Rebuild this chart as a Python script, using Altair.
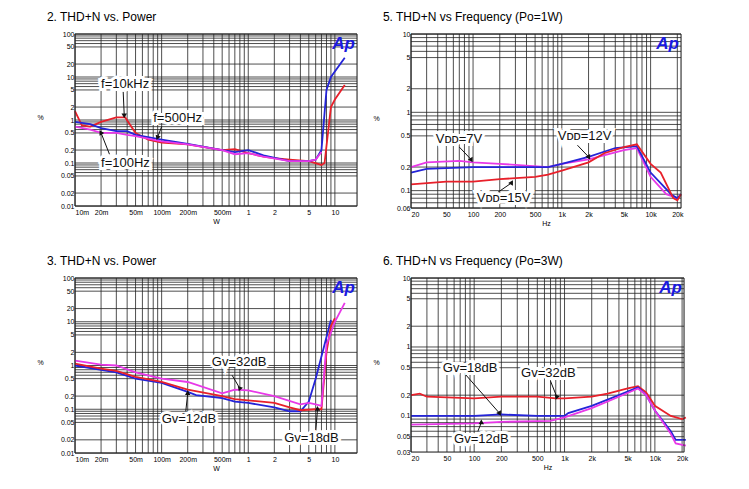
import altair as alt
import pandas as pd

RED, BLUE, MAG = "#e8202a", "#2424d8", "#e838e8"

# ---- panel 2: THD+N vs Power (frequency) ----
p1_red_x = [0.01, 0.012, 0.015, 0.02, 0.03, 0.038, 0.05, 0.07, 0.1, 0.2, 0.5, 0.7, 1, 1.5, 2, 3, 5, 7, 7.6, 9, 10, 13]
p1_red_y = [1.6, 0.75, 0.7, 0.9, 1.15, 1.15, 0.5, 0.35, 0.3, 0.27, 0.2, 0.21, 0.17, 0.14, 0.13, 0.12, 0.11, 0.09, 0.1, 2.0, 3.0, 6.5]
p1_blue_x = [0.01, 0.015, 0.02, 0.03, 0.04, 0.05, 0.1, 0.2, 0.5, 0.7, 1, 1.5, 3, 5, 6, 7, 8, 9, 13]
p1_blue_y = [0.9, 0.8, 0.65, 0.55, 0.55, 0.45, 0.35, 0.28, 0.2, 0.18, 0.2, 0.15, 0.11, 0.11, 0.12, 0.2, 5, 10, 28]
p1_mag_x = [0.01, 0.015, 0.02, 0.03, 0.04, 0.05, 0.1, 0.2, 0.5, 0.7, 1, 1.5, 3, 5, 6, 7]
p1_mag_y = [0.7, 0.6, 0.5, 0.5, 0.45, 0.42, 0.32, 0.27, 0.2, 0.16, 0.17, 0.14, 0.11, 0.11, 0.12, 0.18]

# ---- panel 5: THD+N vs Frequency (Po=1W) ----
p2_mag_x = [20, 30, 70, 100, 200, 700, 1000, 2000, 5000, 7000, 10000, 15000, 20000]
p2_mag_y = [0.2, 0.23, 0.24, 0.23, 0.22, 0.2, 0.22, 0.25, 0.33, 0.35, 0.15, 0.09, 0.08]
p2_blue_x = [20, 30, 100, 500, 700, 1000, 2000, 4000, 7000, 10000, 17000, 20000, 22000]
p2_blue_y = [0.17, 0.19, 0.2, 0.2, 0.2, 0.22, 0.27, 0.35, 0.37, 0.17, 0.09, 0.08, 0.09]
p2_red_x = [20, 50, 100, 200, 500, 700, 1000, 2000, 3000, 5000, 7000, 10000, 13000, 18000, 20000, 22000]
p2_red_y = [0.12, 0.13, 0.13, 0.14, 0.15, 0.16, 0.18, 0.23, 0.3, 0.36, 0.39, 0.22, 0.17, 0.08, 0.075, 0.09]

# ---- panel 3: THD+N vs Power (gain) ----
p3_blue_x = [0.01, 0.02, 0.03, 0.05, 0.1, 0.2, 0.25, 0.5, 0.7, 1, 2, 3, 4, 5, 6, 9]
p3_blue_y = [1.0, 0.8, 0.7, 0.5, 0.4, 0.25, 0.21, 0.18, 0.15, 0.14, 0.11, 0.09, 0.09, 0.15, 0.5, 11]
p3_red_x = [0.01, 0.02, 0.03, 0.05, 0.1, 0.2, 0.5, 0.7, 1, 2, 3, 4, 6, 7, 8, 9, 10]
p3_red_y = [1.1, 0.85, 0.75, 0.55, 0.42, 0.28, 0.2, 0.17, 0.16, 0.14, 0.11, 0.095, 0.1, 0.1, 2, 8, 12]
p3_mag_x = [0.01, 0.02, 0.03, 0.05, 0.1, 0.2, 0.5, 0.7, 1, 2, 4, 5, 6, 7, 8, 10, 13]
p3_mag_y = [1.3, 1.05, 1.0, 0.7, 0.5, 0.42, 0.23, 0.28, 0.27, 0.2, 0.13, 0.14, 0.13, 0.12, 3, 10, 27]

# ---- panel 6: THD+N vs Frequency (Po=3W) ----
p4_red_x = [20, 25, 30, 100, 200, 500, 800, 1000, 2000, 3000, 5000, 6500, 8000, 10000, 15000, 20000, 22000]
p4_red_y = [0.2, 0.21, 0.19, 0.18, 0.19, 0.19, 0.18, 0.18, 0.19, 0.21, 0.25, 0.27, 0.22, 0.14, 0.1, 0.09, 0.095]
p4_blue_x = [20, 100, 200, 500, 1000, 1100, 2000, 4000, 6500, 8000, 10000, 15000, 17000, 22000]
p4_blue_y = [0.1, 0.1, 0.105, 0.1, 0.1, 0.11, 0.14, 0.2, 0.26, 0.2, 0.12, 0.06, 0.045, 0.045]
p4_mag_x = [20, 100, 200, 700, 1000, 2000, 4000, 6500, 8000, 10000, 15000, 17000, 22000]
p4_mag_y = [0.075, 0.078, 0.082, 0.085, 0.095, 0.13, 0.19, 0.25, 0.2, 0.12, 0.055, 0.04, 0.037]

# axis ticks
pow_ticks = [0.01, 0.02, 0.05, 0.1, 0.2, 0.5, 1, 2, 5, 10]
pow_labels = ["10m", "20m", "50m", "100m", "200m", "500m", "1", "2", "5", "10"]
hz_ticks = [20, 50, 100, 200, 500, 1000, 2000, 5000, 10000, 20000]
hz_labels = ["20", "50", "100", "200", "500", "1k", "2k", "5k", "10k", "20k"]
pct_ticks_a = [0.01, 0.02, 0.05, 0.1, 0.2, 0.5, 1, 2, 5, 10, 20, 50, 100]
pct_ticks_b = [0.06, 0.1, 0.2, 0.5, 1, 2, 5, 10]
pct_ticks_c = [0.03, 0.05, 0.1, 0.2, 0.5, 1, 2, 5, 10]


def grid_values(lo, hi, mults):
    out = []
    d = 1e-3
    while d < 1e6:
        for m in mults:
            v = round(d * m, 6)
            if lo <= v <= hi:
                out.append(v)
        d *= 10
    return out


def label_expr(ticks, labels):
    parts = " : ".join(f"datum.value == {t} ? '{l}'" for t, l in zip(ticks, labels))
    return parts + " : ''"


def panel(series, xdom, ydom, xt, xl, yt, title, xtitle, notes, w, h):
    xs = alt.Scale(type="log", domain=xdom, nice=False)
    ys = alt.Scale(type="log", domain=ydom, nice=False)
    vg = pd.DataFrame({"x": grid_values(xdom[0], xdom[1], range(1, 10))})
    hg = pd.DataFrame({"y": grid_values(ydom[0], ydom[1], [1, 2, 5, 6, 7, 8, 9])})
    vrule = alt.Chart(vg).mark_rule(color="#222", strokeWidth=0.8).encode(
        x=alt.X("x:Q", scale=xs, axis=alt.Axis(values=xt, labelExpr=label_expr(xt, xl),
                title=xtitle, grid=False, labelFontSize=7, titleFontSize=7,
                titleFontWeight="normal", domain=False, ticks=False, labelPadding=2, titlePadding=2)))
    hrule = alt.Chart(hg).mark_rule(color="#222", strokeWidth=0.8).encode(
        y=alt.Y("y:Q", scale=ys, axis=alt.Axis(values=yt, labelExpr=label_expr(yt, [str(t) for t in yt]),
                title="%", titleAngle=0, titleX=-35, titleY=h / 2, grid=False,
                labelFontSize=7, titleFontSize=7, titleFontWeight="normal",
                domain=False, ticks=False, labelPadding=1)))
    rows = []
    for name, xv, yv in series:
        for i, (a, b) in enumerate(zip(xv, yv)):
            rows.append({"s": name, "x": a, "y": b, "i": i})
    df = pd.DataFrame(rows)
    names = [s[0] for s in series]
    cols = {"red": RED, "blue": BLUE, "mag": MAG}
    lines = alt.Chart(df).mark_line(strokeWidth=1.8).encode(
        x=alt.X("x:Q", scale=xs), y=alt.Y("y:Q", scale=ys), order="i:Q",
        detail="s:N",
        color=alt.Color("s:N", scale=alt.Scale(domain=names, range=[cols[n] for n in names]), legend=None))
    frame = alt.Chart(pd.DataFrame({"a": [0]})).mark_rect(fill=None, stroke="#222", strokeWidth=1).encode(
        x=alt.value(0), x2=alt.value(w), y=alt.value(0), y2=alt.value(h))
    logo = alt.Chart(pd.DataFrame({"t": ["Ap"]})).mark_text(
        fontSize=17, fontWeight="bold", fontStyle="italic", color="#1a1ae0", align="right", baseline="top").encode(
        x=alt.value(w - 2), y=alt.value(2), text="t:N")
    nd = pd.DataFrame(notes)
    arrows = alt.Chart(nd).mark_rule(color="#111", strokeWidth=1).encode(
        x=alt.X("ax:Q", scale=xs), y=alt.Y("ay:Q", scale=ys),
        x2="bx:Q", y2="by:Q")
    heads = alt.Chart(nd).mark_point(shape="triangle", filled=True, color="#111", size=30, opacity=1).encode(
        x=alt.X("bx:Q", scale=xs), y=alt.Y("by:Q", scale=ys), angle=alt.Angle("ang:Q", scale=None))
    boxes = alt.Chart(nd).mark_text(fontSize=13, align="left", baseline="middle", color="#111",
                                    stroke="white", strokeWidth=6, strokeOpacity=1).encode(
        x=alt.X("tx:Q", scale=xs), y=alt.Y("ty:Q", scale=ys), text="label:N")
    texts = alt.Chart(nd).mark_text(fontSize=13, align="left", baseline="middle", color="#111").encode(
        x=alt.X("tx:Q", scale=xs), y=alt.Y("ty:Q", scale=ys), text="label:N")
    return alt.layer(vrule, hrule, lines, arrows, boxes, texts, heads, frame, logo).properties(
        width=w, height=h,
        title=alt.TitleParams(title, anchor="start", fontSize=12, fontWeight="normal", offset=6, dx=10))


def note(label, tx, ty, ax, ay, bx, by, ang):
    return {"label": label, "tx": tx, "ty": ty, "ax": ax, "ay": ay, "bx": bx, "by": by, "ang": ang}


c1 = panel([("red", p1_red_x, p1_red_y), ("blue", p1_blue_x, p1_blue_y), ("mag", p1_mag_x, p1_mag_y)],
           [0.01, 18], [0.01, 100], pow_ticks, pow_labels, pct_ticks_a,
           "2. THD+N vs. Power", "W",
           [note("f=10kHz", 0.02, 7, 0.036, 4.5, 0.037, 1.3, 180),
            note("f=500Hz", 0.08, 1.1, 0.1, 0.7, 0.09, 0.4, 200),
            note("f=100Hz", 0.02, 0.1, 0.025, 0.16, 0.02, 0.5, 330)], 282, 172)
c2 = panel([("mag", p2_mag_x, p2_mag_y), ("blue", p2_blue_x, p2_blue_y), ("red", p2_red_x, p2_red_y)],
           [20, 22000], [0.06, 10], hz_ticks, hz_labels, pct_ticks_b,
           "5. THD+N vs Frequency (Po=1W)", "Hz",
           [note("Vᴅᴅ=7V", 38, 0.45, 70, 0.36, 95, 0.25, 150),
            note("Vᴅᴅ=12V", 900, 0.5, 1500, 0.38, 2000, 0.27, 150),
            note("Vᴅᴅ=15V", 110, 0.08, 190, 0.095, 270, 0.125, 30)], 270, 174)
c3 = panel([("blue", p3_blue_x, p3_blue_y), ("red", p3_red_x, p3_red_y), ("mag", p3_mag_x, p3_mag_y)],
           [0.01, 18], [0.01, 100], pow_ticks, pow_labels, pct_ticks_a,
           "3. THD+N vs. Power", "W",
           [note("Gv=32dB", 0.38, 1.2, 0.65, 0.6, 0.8, 0.3, 200),
            note("Gv=12dB", 0.1, 0.06, 0.19, 0.09, 0.2, 0.23, 0),
            note("Gv=18dB", 2.6, 0.022, 6, 0.03, 6.3, 0.1, 0)], 282, 175)
c4 = panel([("red", p4_red_x, p4_red_y), ("blue", p4_blue_x, p4_blue_y), ("mag", p4_mag_x, p4_mag_y)],
           [20, 21000], [0.03, 10], hz_ticks, hz_labels, pct_ticks_c,
           "6. THD+N vs Frequency (Po=3W)", "Hz",
           [note("Gv=18dB", 45, 0.5, 80, 0.4, 190, 0.11, 150),
            note("Gv=32dB", 330, 0.42, 700, 0.32, 820, 0.19, 200),
            note("Gv=12dB", 60, 0.047, 110, 0.06, 120, 0.08, 0)], 273, 174)

chart = alt.vconcat(
    alt.hconcat(c1, c2, spacing=14),
    alt.hconcat(c3, c4, spacing=14),
    spacing=27,
).properties(padding={"left": 28, "top": 2, "right": 2, "bottom": 2}).configure_view(stroke=None).configure(
    font="Liberation Sans")

chart.save("out.html", embed_options={"renderer": "svg", "actions": False})
